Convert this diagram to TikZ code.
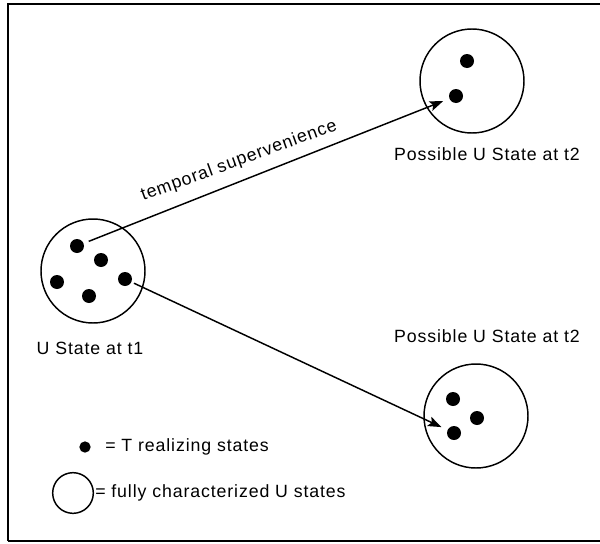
\documentclass[tikz,border=0pt]{standalone}
\usepackage{fontspec}
\setmainfont{Liberation Sans}[LetterSpace=5]
\usetikzlibrary{arrows.meta}
\begin{document}
\begin{tikzpicture}[x=0.75pt,y=-0.75pt,
  state/.style={circle,draw,line width=1.1pt,minimum size=78pt,inner sep=0pt},
  dot/.style={circle,fill=black,minimum size=10.5pt,inner sep=0pt},
  legdot/.style={circle,fill=black,minimum size=8.5pt,inner sep=0pt},
  lbl/.style={font=\fontsize{13.3}{15}\selectfont,inner sep=0pt},
  link/.style={line width=1.1pt,-{Stealth[length=10pt,width=7.5pt,inset=2pt]}}]
  \useasboundingbox (0,0) rectangle (600,543);
  % frame: left, top and bottom edges only
  \draw[line width=1.6pt] (600,4) -- (8,4) -- (8,541);
  \draw[line width=0.9pt] (8,541) -- (600,541);

  % U state at t1
  \node[state] (u1) at (93,271) {};
  \node[dot] (a1) at (77,246) {};
  \node[dot] (a2) at (101,260) {};
  \node[dot] (a3) at (57,282) {};
  \node[dot] (a4) at (125,279) {};
  \node[dot] (a5) at (89,296) {};
  \node[lbl] (l1) at (90,348) {U State at t1};

  % possible state at t2 (upper)
  \node[state] (u2) at (472,81) {};
  \node[dot] (b1) at (467,61) {};
  \node[dot] (b2) at (456,96) {};
  \node[lbl] (l2) at (487,154) {Possible U State at t2};

  % possible state at t2 (lower)
  \node[state] (u3) at (476,416) {};
  \node[dot] (c1) at (453,399) {};
  \node[dot] (c2) at (477,418) {};
  \node[dot] (c3) at (454,433) {};
  \node[lbl] (l3) at (487,336) {Possible U State at t2};

  % transitions
  \draw[link,shorten <=4pt,shorten >=5pt] (a1) -- (b2);
  \draw[link,shorten <=2pt,shorten >=5pt] (a4) -- (c3);
  \node[lbl,rotate=20] (ts) at (239,161) {temporal supervenience};

  % legend
  \node[legdot] (kd) at (85,447) {};
  \node[lbl,anchor=west] (kdt) at (105,447) {= T realizing states};
  \node[circle,draw,line width=1.1pt,minimum size=30.5pt,inner sep=0pt] (kc) at (73,493) {};
  \node[lbl,anchor=west] (kct) at (95,493) {= fully characterized U states};
\end{tikzpicture}
\end{document}
